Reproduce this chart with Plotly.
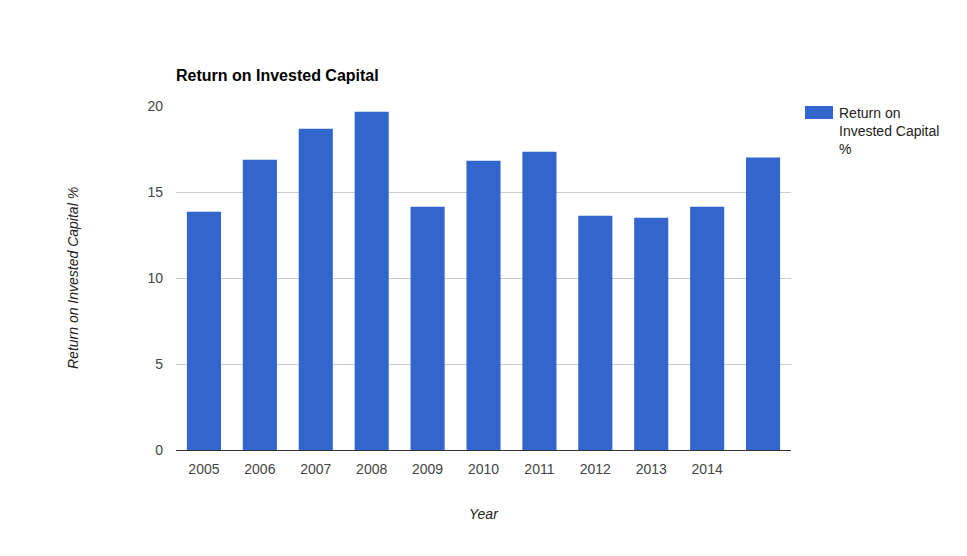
import plotly.graph_objects as go

years = ["2005", "2006", "2007", "2008", "2009", "2010", "2011", "2012", "2013", "2014", "2015"]
tick_labels = ["2005", "2006", "2007", "2008", "2009", "2010", "2011", "2012", "2013", "2014", ""]
roic = [13.85, 16.88, 18.68, 19.67, 14.14, 16.82, 17.34, 13.62, 13.51, 14.14, 17.0]
series_name = "Return on Invested Capital %"

OFF = 8  # page body margin
W, H = 967 - OFF, 556 - OFF
L, T = 176 - OFF, 106 - OFF
R, B = W - (791 - OFF), H - (450 - OFF)
font = "Liberation Sans, Arial, sans-serif"

fig = go.Figure()
fig.add_trace(go.Bar(x=years, y=roic, name=series_name, marker_color="#3366cc",
                     marker_line_width=0, showlegend=False))

pw = W - L - R
ph = H - T - B
def px_x(p):
    return (p - OFF - L) / pw
def px_y(p):
    return 1 - (p - OFF - T) / ph

fig.update_layout(
    width=W, height=H,
    margin=dict(l=L, r=R, t=T, b=B),
    paper_bgcolor="white", plot_bgcolor="white",
    bargap=0.39,
    font=dict(family=font, size=14, color="#444444"),
    title=dict(text="<b>Return on Invested Capital</b>", x=0, xref="paper", xanchor="left",
               y=1 - (75 - OFF) / H, yref="container", yanchor="middle",
               font=dict(family=font, size=16, color="#000000")),
    xaxis=dict(type="category", tickmode="array", tickvals=years, ticktext=tick_labels,
               showgrid=False, showline=True, linecolor="#333333", linewidth=1,
               ticks="", ticklabelstandoff=6, tickfont=dict(size=14, color="#444444"),
               range=[-0.5, len(years) - 0.5]),
    yaxis=dict(range=[0, 20], tickvals=[0, 5, 10, 15, 20], showgrid=True,
               gridcolor="#cccccc", gridwidth=1, zeroline=False, showline=False,
               ticks="", ticklabelstandoff=12, tickfont=dict(size=14, color="#444444")),
    shapes=[dict(type="rect", xref="paper", yref="paper",
                 x0=px_x(805), x1=px_x(833), y0=px_y(106), y1=px_y(119),
                 fillcolor="#3366cc", line_width=0)],
    annotations=[
        dict(text="Return on<br>Invested Capital<br>%", xref="paper", yref="paper",
             x=px_x(837), y=px_y(103), xanchor="left", yanchor="top",
             align="left", showarrow=False, font=dict(family=font, size=14, color="#222222")),
        dict(text="<i>Year</i>", xref="paper", yref="paper", x=0.5,
             y=px_y(514), xanchor="center", yanchor="middle",
             showarrow=False, font=dict(family=font, size=14, color="#222222")),
        dict(text="<i>Return on Invested Capital %</i>", xref="paper", yref="paper",
             x=px_x(73), y=0.5, xanchor="center", yanchor="middle", textangle=-90,
             showarrow=False, font=dict(family=font, size=14, color="#222222")),
    ],
)

fig.write_html("out.html")
